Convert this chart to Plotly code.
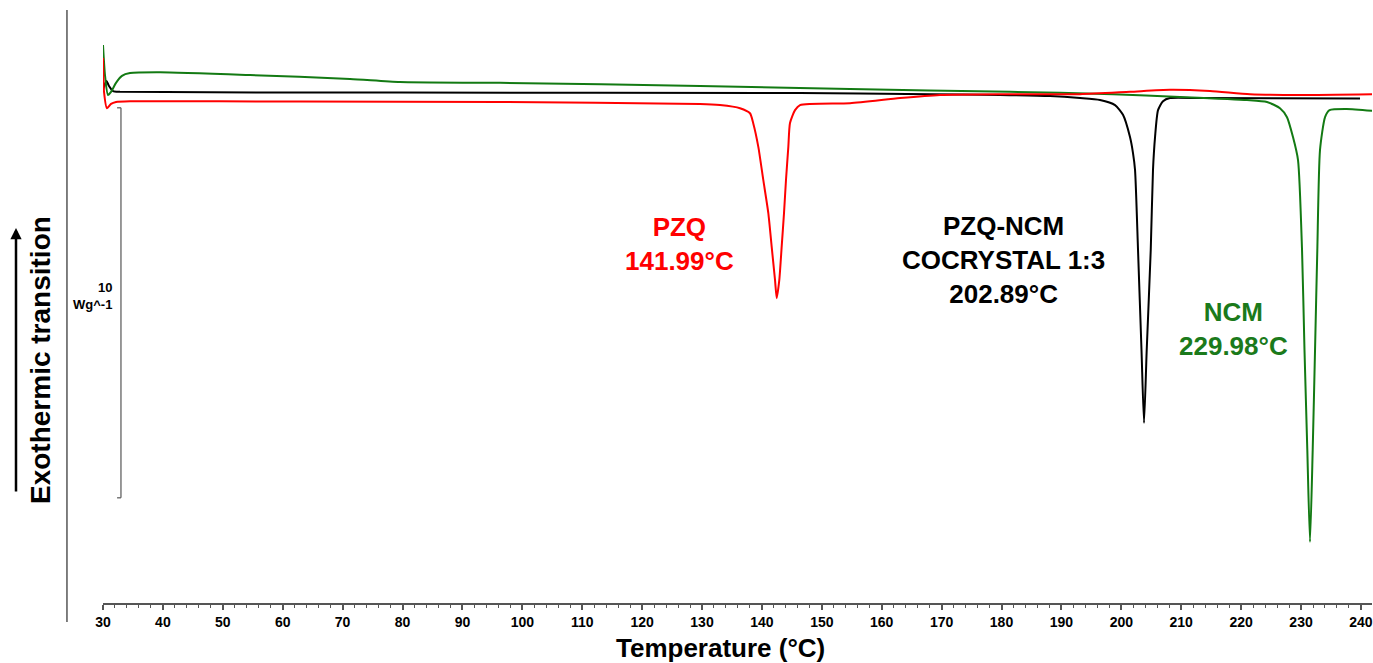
import plotly.graph_objects as go

# ---- data (temperature in °C, heat flow in W/g) ----
pzq_temp = [30.0, 30.17, 30.67, 31.34, 32.17, 34.51, 62.89, 96.28, 129.67, 133.0,
            136.34, 138.01, 138.56, 139.40, 140.23, 141.07, 141.63, 142.19, 142.47,
            142.90, 143.30, 143.69, 144.02, 144.41, 144.69, 145.53, 146.36, 154.71,
            163.06, 169.73, 179.75, 193.11, 201.45, 208.13, 214.81, 221.49, 229.83, 242.0]
pzq_hf = [1.08, 0.21, -0.21, -0.10, -0.05, -0.03, -0.04, -0.05, -0.10, -0.13,
          -0.21, -0.34, -0.60, -1.20, -2.05, -2.90, -3.76, -4.62, -5.08,
          -4.62, -3.76, -2.90, -2.05, -1.20, -0.59, -0.26, -0.13, -0.08,
          0.05, 0.13, 0.15, 0.15, 0.21, 0.26, 0.23, 0.15, 0.13, 0.15]

cocrystal_temp = [30.0, 30.33, 30.58, 31.0, 31.67, 32.84, 79.58, 146.36, 168.06, 179.75,
                  188.10, 193.11, 196.44, 198.95, 200.28, 201.45, 201.95, 202.29, 202.79,
                  203.37, 203.79, 204.24, 204.91, 205.29, 205.63, 206.13, 206.96, 208.13,
                  213.14, 239.85]
cocrystal_hf = [0.26, 0.41, 0.49, 0.36, 0.23, 0.21, 0.19, 0.18, 0.15, 0.13,
                0.10, 0.05, 0.0, -0.13, -0.38, -0.95, -1.36, -1.79, -3.85,
                -6.41, -8.28, -6.41, -3.85, -1.79, -0.95, -0.26, -0.03, 0.05,
                0.05, 0.04]

ncm_temp = [30.0, 30.33, 30.83, 31.34, 32.17, 33.17, 34.51, 39.52, 54.54, 71.24,
            79.58, 96.28, 129.67, 154.71, 181.42, 198.61, 209.80, 220.98, 224.32,
            226.49, 227.66, 228.66, 229.50, 230.17, 230.58, 231.05, 231.50, 231.95,
            232.34, 232.72, 233.17, 234.01, 234.76, 237.60, 242.0]
ncm_hf = [1.41, 0.64, 0.13, 0.21, 0.44, 0.62, 0.69, 0.71, 0.64, 0.54,
          0.46, 0.44, 0.36, 0.28, 0.21, 0.15, 0.08, 0.0, -0.05,
          -0.21, -0.44, -0.95, -1.54, -3.85, -6.41, -8.97, -11.33, -8.97,
          -6.41, -3.85, -1.28, -0.44, -0.26, -0.23, -0.28]

x_ticks = [30, 40, 50, 60, 70, 80, 90, 100, 110, 120, 130, 140, 150, 160,
           170, 180, 190, 200, 210, 220, 230, 240]

pzq_label = "PZQ<br>141.99°C"
cocrystal_label = "PZQ-NCM<br>COCRYSTAL 1:3<br>202.89°C"
ncm_label = "NCM<br>229.98°C"
scale_value = 10  # W/g scale bar length

RED = "#ff0000"
GREEN = "#137a13"
BLACK = "#000000"
AXIS = "#555555"
FONT = "Liberation Sans, Arial, sans-serif"

fig = go.Figure()
line_kw = dict(width=2, shape="spline", smoothing=0.6)
fig.add_trace(go.Scatter(x=cocrystal_temp, y=cocrystal_hf, mode="lines",
                         line=dict(color=BLACK, **line_kw), name="PZQ-NCM cocrystal 1:3"))
fig.add_trace(go.Scatter(x=ncm_temp, y=ncm_hf, mode="lines",
                         line=dict(color=GREEN, **line_kw), name="NCM"))
fig.add_trace(go.Scatter(x=pzq_temp, y=pzq_hf, mode="lines",
                         line=dict(color=RED, **line_kw), name="PZQ"))

x_min, x_max = 30, 241.85
y_min, y_max = -12.897, 2.308

fig.update_layout(
    width=1373, height=663,
    margin=dict(l=103, r=1, t=10, b=60),
    paper_bgcolor="white", plot_bgcolor="white",
    showlegend=False, hovermode=False,
    font=dict(family=FONT, color="black"),
    xaxis=dict(
        range=[x_min, x_max], tickmode="array", tickvals=x_ticks,
        ticktext=[str(t) for t in x_ticks],
        showline=True, linecolor=AXIS, linewidth=1.5,
        ticks="outside", ticklen=5, tickwidth=1.5, tickcolor=AXIS,
        minor=dict(ticks="outside", ticklen=3, tickwidth=1.2, tickcolor=AXIS, dtick=2, tick0=30),
        showgrid=False, zeroline=False,
        tickfont=dict(family=FONT, size=14, color="black", weight="bold"),
    ),
    yaxis=dict(range=[y_min, y_max], visible=False, showgrid=False, zeroline=False),
)

# left vertical frame line
fig.add_shape(type="line", xref="paper", yref="paper", x0=-0.0284, x1=-0.0284,
              y0=-0.032, y1=1.0, line=dict(color=AXIS, width=1.5))

# scale bar (10 W/g) in data units
sb_x, sb_top = 33.0, -0.2
sb_bottom = sb_top - scale_value
fig.add_shape(type="line", x0=sb_x, x1=sb_x, y0=sb_top, y1=sb_bottom,
              line=dict(color=AXIS, width=1.2))
fig.add_shape(type="line", x0=sb_x - 0.65, x1=sb_x, y0=sb_top, y1=sb_top,
              line=dict(color=AXIS, width=1.2))
fig.add_shape(type="line", x0=sb_x - 0.65, x1=sb_x, y0=sb_bottom, y1=sb_bottom,
              line=dict(color=AXIS, width=1.2))
fig.add_annotation(x=31.9, y=-4.80, text=str(scale_value), showarrow=False,
                   xanchor="right", yanchor="middle",
                   font=dict(family=FONT, size=13, color="black", weight="bold"))
fig.add_annotation(x=31.9, y=-5.24, text="Wg^-1", showarrow=False,
                   xanchor="right", yanchor="middle",
                   font=dict(family=FONT, size=13, color="black", weight="bold"))

# peak labels
fig.add_annotation(x=126.3, y=-3.68, text=pzq_label, showarrow=False,
                   font=dict(family=FONT, size=26, color=RED, weight="bold"))
fig.add_annotation(x=180.25, y=-4.10, text=cocrystal_label, showarrow=False,
                   font=dict(family=FONT, size=26, color=BLACK, weight="bold"))
fig.add_annotation(x=218.65, y=-5.87, text=ncm_label, showarrow=False,
                   font=dict(family=FONT, size=26, color="#1b7a1b", weight="bold"))

# axis titles
fig.add_annotation(xref="paper", yref="paper", x=(720 - 103) / 1269, y=(603 - 648) / 593,
                   text="Temperature (°C)", showarrow=False, xanchor="center", yanchor="middle",
                   font=dict(family=FONT, size=26, color="black", weight="bold"))
fig.add_annotation(xref="paper", yref="paper", x=(40 - 103) / 1269, y=(603 - 360) / 593,
                   text="Exothermic transition", textangle=-90, showarrow=False,
                   xanchor="center", yanchor="middle",
                   font=dict(family=FONT, size=28, color="black", weight="bold"))
# exothermic arrow
fig.add_annotation(xref="paper", yref="paper", x=(16 - 103) / 1269, y=(603 - 228) / 593,
                   text="", showarrow=True, ax=0, ay=265, arrowhead=2, arrowsize=0.9,
                   arrowwidth=2.5, arrowcolor="black", standoff=0)

fig.write_html("out.html", config={"displayModeBar": False},
               post_script="document.body.style.margin='0';document.body.style.overflow='hidden';")
